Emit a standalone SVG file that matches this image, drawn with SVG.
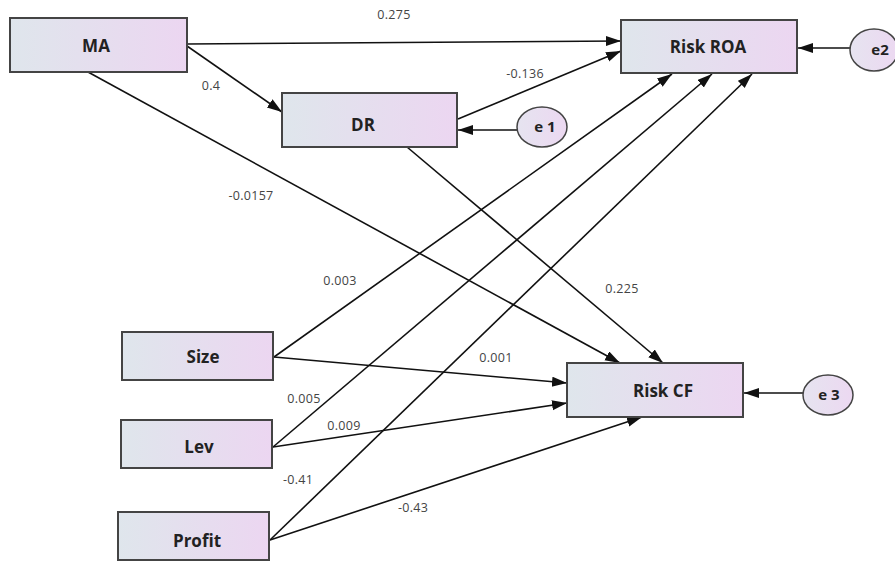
<svg xmlns="http://www.w3.org/2000/svg" width="895" height="562" viewBox="0 0 895 562">
<style>
.box{stroke:#444;stroke-width:2;fill:url(#g)}
.ell{stroke:#444;stroke-width:1.5;fill:url(#g2)}
.nt{font-family:"Open Sans","Liberation Sans",sans-serif;font-weight:bold;font-size:17px;fill:#222;text-anchor:middle}
.et{font-family:"Open Sans","Liberation Sans",sans-serif;font-weight:bold;font-size:15px;fill:#222;text-anchor:middle}
.lb{font-family:"Open Sans","Liberation Sans",sans-serif;font-size:12.5px;fill:#444;text-anchor:middle;letter-spacing:0.3px}
#edges line{stroke:#111;stroke-width:1.6;marker-end:url(#ah)}
</style>
<defs>
<linearGradient id="g" x1="0" y1="0" x2="1" y2="0">
<stop offset="0" stop-color="#dfe6ec"/><stop offset="1" stop-color="#ecd6f1"/>
</linearGradient>
<linearGradient id="g2" x1="0" y1="0" x2="1" y2="0">
<stop offset="0" stop-color="#e6e4f0"/><stop offset="1" stop-color="#ecd8f1"/>
</linearGradient>
<marker id="ah" markerUnits="userSpaceOnUse" markerWidth="16" markerHeight="12" refX="15" refY="5" orient="auto">
<path d="M0,0 L15,5 L0,10 Z" fill="#111"/>
</marker>
</defs>
<rect width="895" height="562" fill="#fff"/>
<g id="edges">
<line x1="187" y1="44" x2="621" y2="41"/>
<line x1="187" y1="46" x2="282" y2="112"/>
<line x1="88" y1="72" x2="620" y2="363"/>
<line x1="458" y1="119" x2="621" y2="51"/>
<line x1="407" y1="147" x2="663" y2="363"/>
<line x1="517" y1="130" x2="458" y2="130"/>
<line x1="850" y1="48" x2="798" y2="48"/>
<line x1="803" y1="393" x2="744" y2="393"/>
<line x1="274" y1="357" x2="672" y2="74"/>
<line x1="274" y1="357" x2="567" y2="383"/>
<line x1="273" y1="447" x2="712" y2="74"/>
<line x1="273" y1="447" x2="567" y2="403"/>
<line x1="270" y1="540" x2="752" y2="74"/>
<line x1="270" y1="540" x2="642" y2="417"/>
</g>
<g id="labels">
<text class="lb" x="394" y="19">0.275</text>
<text class="lb" x="211" y="90">0.4</text>
<text class="lb" x="525" y="78">-0.136</text>
<text class="lb" x="251" y="200">-0.0157</text>
<text class="lb" x="340" y="285">0.003</text>
<text class="lb" x="622" y="293">0.225</text>
<text class="lb" x="496" y="362">0.001</text>
<text class="lb" x="304" y="403">0.005</text>
<text class="lb" x="344" y="430">0.009</text>
<text class="lb" x="298" y="484">-0.41</text>
<text class="lb" x="413" y="512">-0.43</text>
</g>
<g id="MA"><rect class="box" x="10" y="18" width="177" height="54"/><text class="nt" x="96" y="52">MA</text></g>
<g id="DR"><rect class="box" x="282" y="93" width="175" height="54"/><text class="nt" x="363" y="131">DR</text></g>
<g id="RiskROA"><rect class="box" x="621" y="20" width="176" height="53"/><text class="nt" x="708" y="53">Risk ROA</text></g>
<g id="RiskCF"><rect class="box" x="567" y="363" width="176" height="54"/><text class="nt" x="663" y="397">Risk CF</text></g>
<g id="Size"><rect class="box" x="122" y="332" width="151" height="48"/><text class="nt" x="203" y="363">Size</text></g>
<g id="Lev"><rect class="box" x="121" y="420" width="151" height="48"/><text class="nt" x="199" y="453">Lev</text></g>
<g id="Profit"><rect class="box" x="118" y="512" width="151" height="48"/><text class="nt" x="197" y="547">Profit</text></g>
<g id="e1"><ellipse class="ell" cx="542" cy="127" rx="25" ry="20"/><text class="et" x="545" y="132">e 1</text></g>
<g id="e2"><ellipse class="ell" cx="874" cy="50" rx="24" ry="21"/><text class="et" x="880" y="55">e2</text></g>
<g id="e3"><ellipse class="ell" cx="828" cy="395" rx="25" ry="20"/><text class="et" x="829" y="400">e 3</text></g>
</svg>
